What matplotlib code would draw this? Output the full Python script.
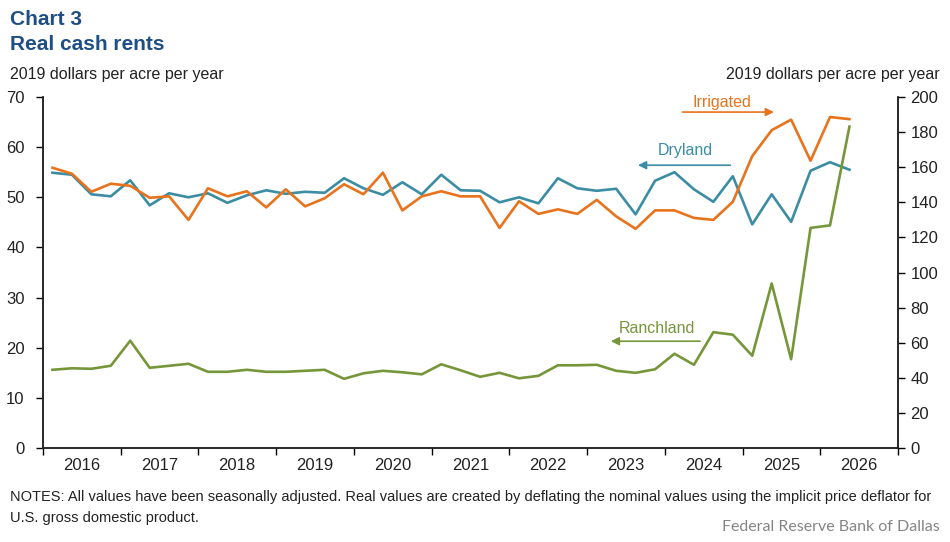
import matplotlib.pyplot as plt
import numpy as np

plt.rcParams['font.family'] = ['Liberation Sans', 'DejaVu Sans']

# quarterly, 2016Q1 .. 2026Q2
first_year = 2016
year_labels = [str(y) for y in range(2016, 2027)]

dryland = [54.9, 54.5, 50.6, 50.2, 53.4, 48.4, 50.8, 50.0, 50.8, 48.9,
           50.4, 51.4, 50.7, 51.1, 50.9, 53.8, 51.8, 50.5, 53.0, 50.6,
           54.5, 51.4, 51.3, 49.0, 50.0, 48.8, 53.8, 51.8, 51.3, 51.7,
           46.6, 53.3, 55.0, 51.6, 49.1, 54.2, 44.6, 50.6, 45.1, 55.3,
           57.0, 55.5]

irrigated = [159.7, 156.3, 146.0, 150.6, 149.4, 142.6, 143.4, 130.0, 148.0, 143.4,
             146.3, 137.1, 147.4, 137.7, 142.3, 150.3, 144.6, 156.9, 135.4, 143.4,
             146.3, 143.4, 143.4, 125.4, 140.6, 133.4, 136.0, 133.4, 141.4, 132.0,
             124.9, 135.4, 135.4, 131.1, 130.0, 140.3, 166.3, 181.1, 187.1, 163.7,
             188.6, 187.4]

ranchland = [15.6, 15.9, 15.8, 16.4, 21.4, 16.0, 16.4, 16.8, 15.2, 15.2,
             15.6, 15.2, 15.2, 15.4, 15.6, 13.8, 14.9, 15.4, 15.1, 14.7,
             16.7, 15.5, 14.2, 15.0, 13.9, 14.4, 16.5, 16.5, 16.6, 15.4,
             15.0, 15.7, 18.8, 16.6, 23.1, 22.6, 18.4, 32.8, 17.7, 43.9,
             44.4, 64.1]

c_dry = '#3A8DA3'
c_irr = '#E8731C'
c_ranch = '#76963A'
c_title = '#1F4E86'

x = first_year + (np.arange(len(dryland)) + 0.5) / 4

fig = plt.figure(figsize=(9.5, 5.42), dpi=100)
ax = fig.add_axes([0.045, 0.1734, 0.9003, 0.6476])
ax2 = ax.twinx()

ax.plot(x, dryland, color=c_dry, lw=1.9, zorder=3)
ax.plot(x, ranchland, color=c_ranch, lw=1.9, zorder=3)
ax2.plot(x, irrigated, color=c_irr, lw=1.9, zorder=2)

ax.set_xlim(2016, 2027)
ax.set_ylim(0, 70)
ax2.set_ylim(0, 200)
ax.set_yticks(range(0, 71, 10))
ax2.set_yticks(range(0, 201, 20))

ax.set_xticks(range(2016, 2028))
ax.set_xticklabels([])
ax.set_xticks(np.arange(2016.5, 2027, 1), minor=True)
ax.set_xticklabels(year_labels, minor=True)
ax.tick_params(axis='x', which='major', length=5, width=1, direction='out')
ax.tick_params(axis='x', which='minor', length=0, pad=7, labelsize=12, labelcolor='#222222')
ax.tick_params(axis='y', length=5, width=1, direction='out', labelsize=12, labelcolor='#222222', pad=8)
ax2.tick_params(axis='y', length=5, width=1, direction='out', labelsize=12, labelcolor='#222222', pad=4)

for a in (ax, ax2):
    a.spines['top'].set_visible(False)
    for s in ('left', 'right', 'bottom'):
        a.spines[s].set_color('#222222')
        a.spines[s].set_linewidth(1.1)

# series labels with arrows
ax.annotate('', xy=(2025.44, 67.0), xytext=(2024.19, 67.0),
            arrowprops=dict(arrowstyle='-|>', color=c_irr, lw=1.2, mutation_scale=12))
ax.text(2024.73, 68.9, 'Irrigated', color=c_irr, fontsize=11.5, ha='center', va='center')
ax.annotate('', xy=(2023.62, 56.4), xytext=(2024.88, 56.4),
            arrowprops=dict(arrowstyle='-|>', color=c_dry, lw=1.2, mutation_scale=12))
ax.text(2024.26, 59.3, 'Dryland', color=c_dry, fontsize=11.5, ha='center', va='center')
ax.annotate('', xy=(2023.27, 21.3), xytext=(2024.49, 21.3),
            arrowprops=dict(arrowstyle='-|>', color=c_ranch, lw=1.2, mutation_scale=12))
ax.text(2023.9, 23.8, 'Ranchland', color=c_ranch, fontsize=11.5, ha='center', va='center')

# titles and notes
fig.text(10 / 950, 1 - 25 / 542, 'Chart 3', color=c_title, fontsize=15, fontweight='bold', va='baseline')
fig.text(10 / 950, 1 - 50 / 542, 'Real cash rents', color=c_title, fontsize=15, fontweight='bold', va='baseline')
fig.text(10 / 950, 1 - 79 / 542, '2019 dollars per acre per year', color='#222222', fontsize=11.5, va='baseline')
fig.text(940 / 950, 1 - 79 / 542, '2019 dollars per acre per year', color='#222222', fontsize=11.5,
         va='baseline', ha='right')
fig.text(10 / 950, 1 - 501 / 542,
         'NOTES: All values have been seasonally adjusted. Real values are created by deflating the nominal values using the implicit price deflator for',
         color='#222222', fontsize=10.5, va='baseline')
fig.text(10 / 950, 1 - 522 / 542, 'U.S. gross domestic product.', color='#222222', fontsize=10.5, va='baseline')
fig.text(940 / 950, 1 - 531 / 542, 'Federal Reserve Bank of Dallas', color='#858585', fontsize=11.5,
         va='baseline', ha='right', family=['Lato', 'DejaVu Sans'])

fig.savefig('out.png', dpi=100)
